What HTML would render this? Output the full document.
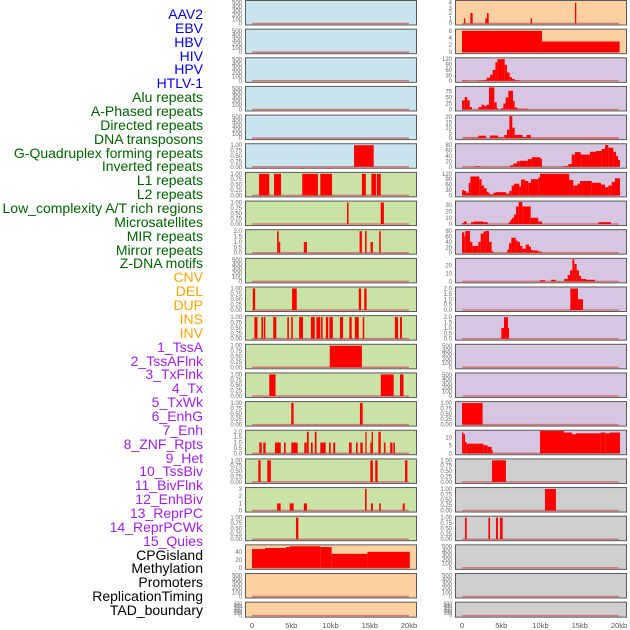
<!DOCTYPE html>
<html><head><meta charset="utf-8"><style>
body{margin:0;background:#fff;width:630px;height:630px;overflow:hidden;font-family:"Liberation Sans",sans-serif}
.lab{position:absolute;right:427px;font-size:14px;line-height:14px;white-space:nowrap}
</style></head><body>
<div id="labels"></div>
<svg id="chart" width="630" height="630" style="position:absolute;left:0;top:0"></svg>
<script>
const trackNames=["AAV2","EBV","HBV","HIV","HPV","HTLV-1","Alu repeats","A-Phased repeats","Directed repeats","DNA transposons","G-Quadruplex forming repeats","Inverted repeats","L1 repeats","L2 repeats","Low_complexity A/T rich regions","Microsatellites","MIR repeats","Mirror repeats","Z-DNA motifs","CNV","DEL","DUP","INS","INV","1_TssA","2_TssAFlnk","3_TxFlnk","4_Tx","5_TxWk","6_EnhG","7_Enh","8_ZNF_Rpts","9_Het","10_TssBiv","11_BivFlnk","12_EnhBiv","13_ReprPC","14_ReprPCWk","15_Quies","CPGisland","Methylation","Promoters","ReplicationTiming","TAD_boundary"];
const labelGroups=[6,13,5,15,5];
const groupColors=["#0000ff","#006400","#ffa500","#a020f0","#000000"];
const xTicks=[0,5,10,15,20];
const xTickLabels=["0","5kb","10kb","15kb","20kb"];
const T500=[0,100,200,300,400,500], T1=[0,0.25,0.5,0.75,1], T2=[0,0.5,1,1.5,2];
// left column panels: [bg, ticks, max, segments [startKb,endKb,value]]
const leftPanels=[
["b",T500,520,[]],["b",T500,520,[]],["b",T500,520,[]],["b",T500,520,[]],["b",T500,520,[]],
["b",T1,1.02,[[13.0,15.5,1]]],
["g",T1,1.02,[[0.9,2.2,1],[2.8,3.7,1],[6.4,8.4,1],[8.7,10.2,1],[14.0,14.5,1],[15.2,15.8,1],[15.9,16.4,1]]],
["g",T1,1.02,[[12.1,12.3,1],[16.4,16.8,1]]],
["g",T2,2.05,[[3.2,3.4,2],[3.4,3.6,1],[6.6,7.0,1],[13.7,14.0,2],[14.4,14.6,2],[15.1,15.4,1],[16.2,16.4,2]]],
["g",T500,520,[]],
["g",T1,1.02,[[0.1,0.4,1],[5.1,5.7,1],[13.6,13.9,1],[14.3,14.6,1]]],
["g",T1,1.02,[[0.3,0.7,1],[1.2,1.4,1],[1.5,1.7,1],[2.7,3.1,1],[4.5,4.7,1],[5.0,5.2,1],[6.0,6.5,1],[7.5,8.0,1],[8.2,8.7,1],[8.8,9.0,1],[9.4,9.7,1],[9.85,10.3,1],[11.2,11.6,1],[12.4,12.7,1],[13.1,13.6,1],[14.1,14.3,1],[18.2,18.6,1],[18.85,19.1,1]]],
["g",T1,1.02,[[9.9,14.0,1]]],
["g",T1,1.02,[[2.2,3.0,1],[16.4,18.05,1],[18.85,19.3,1]]],
["g",T1,1.02,[[5.0,5.3,1],[13.75,14.1,1]]],
["g",T2,2.05,[[0.93,1.24,1],[1.44,1.74,1],[2.93,3.66,1],[4.08,4.29,1],[5.0,5.82,1],[6.66,6.97,1],[7.0,7.22,2],[7.51,7.73,1],[8.0,8.22,2],[8.7,9.39,1],[9.81,10.02,1],[10.35,10.6,1],[12.36,12.7,1],[13.25,13.46,1],[13.8,14.1,1],[14.44,14.6,2],[15.07,15.24,1],[15.24,15.41,2],[16.1,16.4,2],[16.8,17.0,1],[17.6,17.9,1],[18.0,18.2,1]]],
["g",T1,1.02,[[0.8,1.1,1],[1.95,2.4,1],[15.07,15.4,1],[15.7,16.0,1],[19.5,19.8,1]]],
["g",[0,1,2,3],3.05,[[3.2,3.65,1],[4.8,5.3,1],[6.6,7.0,1],[14.4,14.6,3],[15.15,15.4,1],[16.2,16.4,1],[19.2,19.45,1]]],
["g",T1,1.02,[[5.6,5.9,1]]],
["o",[0,20,40],55,[[0,1.66,47],[1.66,4.33,49.6],[4.33,4.84,52],[4.84,8.7,54],[8.7,10.15,52],[10.15,14.7,35],[14.7,20.1,40]]],
["o",T500,520,[]],["o",T500,520,[]]
];
const rightPanels=[
["o",[0,1,2,3,4],4.2,[[0.25,0.42,1],[1.06,1.36,2],[2.97,3.18,1],[3.18,3.4,2],[8.75,8.92,1],[14.39,14.56,4]]],
["o",[0,2,4,6],6.2,[[0,10.19,6],[10.19,20.08,3]]],
["p",[0,30,60,90,120],122,[[0,0.6,2],[2.08,2.8,2],[2.8,3.14,5],[3.14,3.57,17],[3.57,3.9,34],[3.9,4.25,60],[4.25,4.5,103],[4.5,5.44,120],[5.44,5.73,89],[5.73,6.07,46],[6.07,6.37,20],[6.37,6.71,10],[6.71,7.39,3]]],
["p",[0,25,50,75],92,[[0,0.34,38],[0.34,0.68,52],[0.68,0.98,38],[0.98,1.27,10],[2.08,2.5,10],[2.5,2.8,20],[2.8,3.14,15],[3.14,3.44,20],[3.44,4.12,92],[4.12,4.42,30],[4.42,4.59,5],[4.93,5.27,5],[5.27,5.56,25],[5.56,5.9,50],[5.9,6.5,78],[6.5,6.71,35],[6.71,7.05,8],[7.05,8.37,3]]],
["p",[0,5,10,15,20],21,[[0.17,2.08,0.6],[2.08,3.06,2.3],[3.57,4.59,2.5],[4.59,5.39,0.8],[5.39,5.73,3],[5.73,6.03,8],[6.03,6.41,21],[6.41,6.71,10],[6.71,7.05,3],[7.05,7.73,3],[7.73,8.24,1],[8.24,8.75,3],[8.75,19.96,0.4]]],
["p",[0,20,40,60,80],81,[[1.66,2.38,2],[6.11,6.54,5],[6.54,7.0,12],[7.0,7.35,20],[7.35,8.37,22],[8.37,8.87,28],[8.87,9.94,35],[9.94,10.19,30],[12.95,13.55,3],[13.55,13.97,10],[13.97,14.39,45],[14.39,15.12,54],[15.12,16.3,45],[16.3,17.07,55],[17.07,17.79,58],[17.79,18.22,65],[18.22,18.64,80],[18.64,19.28,70],[19.28,19.62,55],[19.62,19.87,40],[19.87,20.13,25]]],
["p",[0,30,60,90,120],122,[[0,0.25,30],[0.25,0.55,25],[0.55,0.85,15],[0.85,1.06,70],[1.06,2.2,105],[2.2,2.5,90],[2.5,2.8,55],[2.8,3.14,40],[3.14,3.4,20],[3.4,3.65,10],[3.65,3.99,5],[3.99,4.33,15],[4.33,5.6,18],[5.6,6.03,10],[6.03,6.33,25],[6.33,6.62,55],[6.62,7.3,65],[7.3,7.52,50],[7.52,8.03,88],[8.03,8.45,80],[8.45,8.79,70],[8.79,9.72,90],[9.72,9.94,100],[9.94,13.67,120],[13.67,14.18,85],[14.18,14.73,55],[14.73,15.03,65],[15.03,16.52,80],[16.52,17.71,70],[17.71,18.22,60],[18.22,18.64,45],[18.64,19.07,55],[19.07,19.49,75],[19.49,20.13,95]]],
["p",[0,10,20,30],35,[[0,0.25,2],[0.25,0.6,4],[1.15,1.44,3],[1.44,2.72,4],[2.72,3.27,3],[5.94,6.16,3],[6.16,6.37,7],[6.37,6.62,10],[6.62,6.88,15],[6.88,7.22,28],[7.22,7.69,35],[7.69,8.75,28],[8.75,9.72,10],[9.72,10.19,4],[17.37,18.98,3]]],
["p",[0,20,40,60,80],81,[[0,0.3,75],[0.3,0.42,60],[0.42,1.02,80],[1.02,1.32,40],[1.32,2.08,25],[2.08,2.38,40],[2.38,2.72,70],[2.72,3.01,78],[3.01,3.44,80],[3.44,3.78,40],[3.78,3.99,5],[5.77,5.99,12],[5.99,6.28,35],[6.28,6.84,55],[6.84,7.09,45],[7.09,7.39,40],[7.39,7.69,25],[7.69,8.11,15],[8.11,8.54,30],[8.54,8.79,22],[8.79,9.09,10],[9.09,9.72,8],[9.72,10.19,4]]],
["p",[0,10,20],28,[[9.94,10.57,1.5],[11.34,11.93,2],[13.04,13.46,3],[13.46,13.76,8],[13.76,14.06,14],[14.06,14.31,28],[14.31,14.61,22],[14.61,14.9,14],[14.9,15.16,7],[15.16,15.8,3],[15.8,16.94,2]]],
["p",T2,2.05,[[13.8,14.78,2],[14.78,15.41,1]]],
["p",T2,2.05,[[5.01,5.35,1],[5.35,5.86,2],[5.86,5.99,1]]],
["p",T500,520,[]],["p",T500,520,[]],
["p",T1,1.02,[[0,2.63,1]]],
["p",[0,5,10],13.8,[[0,0.17,13],[0.17,0.38,12],[0.38,0.6,7],[0.6,2.72,6],[2.72,3.27,5],[3.27,3.78,4],[3.78,3.9,2],[9.94,12.99,14],[12.99,14.01,13],[14.01,14.52,12],[14.52,17.66,12.5],[17.66,18.26,13],[18.26,18.85,12.5],[18.85,20.13,13]]],
["c",T1,1.02,[[3.82,5.6,1]]],
["c",T1,1.02,[[10.57,11.97,1]]],
["c",T1,1.02,[[0.38,0.6,1],[3.36,3.57,1],[4.33,4.59,1],[4.84,5.18,1]]],
["c",T500,520,[]],["c",T500,520,[]],["c",T500,520,[]]
];
const bgColors={b:"#c8e4ec",g:"#c9e2a6",o:"#fdd0a2",p:"#d6c6e1",c:"#cfcfcf"};
const NS="http://www.w3.org/2000/svg";
const svg=document.getElementById("chart");
function mk(tag,attrs,parent){const e=document.createElementNS(NS,tag);for(const k in attrs)e.setAttribute(k,attrs[k]);(parent||svg).appendChild(e);return e;}
function fmt(t,ticks){const mx=ticks[ticks.length-1];if(mx===1)return t.toFixed(2);if(mx===2)return t.toFixed(1);return String(t);}
// labels
const labDiv=document.getElementById("labels");
let idx=0;
labelGroups.forEach((n,g)=>{for(let k=0;k<n;k++){const d=document.createElement("div");d.className="lab";d.style.top=(15+13.86*idx-8)+"px";d.style.color=groupColors[g];d.textContent=trackNames[idx];


labDiv.appendChild(d);idx++;}});
function drawColumn(panels,left,zeroX,colName){
  const xs=kb=>zeroX+kb*7.85;
  panels.forEach((p,i)=>{
    const top=28.65*i, h=(i===21?15:24.5);
    const g=mk("g",{});
    
    
    mk("rect",{x:left+0.5,y:top+0.5,width:171,height:h,fill:bgColors[p[0]],stroke:"#5a5a5a","stroke-width":1},g);
    const y0=top+h-1, span=h-2.5;
    const ys=v=>y0-v/p[2]*span;
    p[1].forEach(t=>{const tx=mk("text",{x:left-3,y:ys(t)+2,"text-anchor":"end","font-size":(i===21?5:6),fill:"#666"},g);tx.textContent=fmt(t,p[1]);
      
      });
    mk("line",{x1:xs(0),x2:xs(20),y1:y0,y2:y0,stroke:"#d27a7a","stroke-width":1.5},g);
    p[3].forEach(s=>{const r=mk("rect",{x:xs(s[0]),y:ys(s[2]),width:Math.max(xs(s[1])-xs(s[0]),1),height:y0-ys(s[2]),fill:"#ff0000"},g);
      
      });
  });
  xTicks.forEach((t,j)=>{const tx=mk("text",{x:xs(t),y:628,"text-anchor":"middle","font-size":7.5,fill:"#555"});tx.textContent=xTickLabels[j];
    
    });
}
drawColumn(leftPanels,245,252,"left");
drawColumn(rightPanels,455,462,"right");
</script>
</body></html>
